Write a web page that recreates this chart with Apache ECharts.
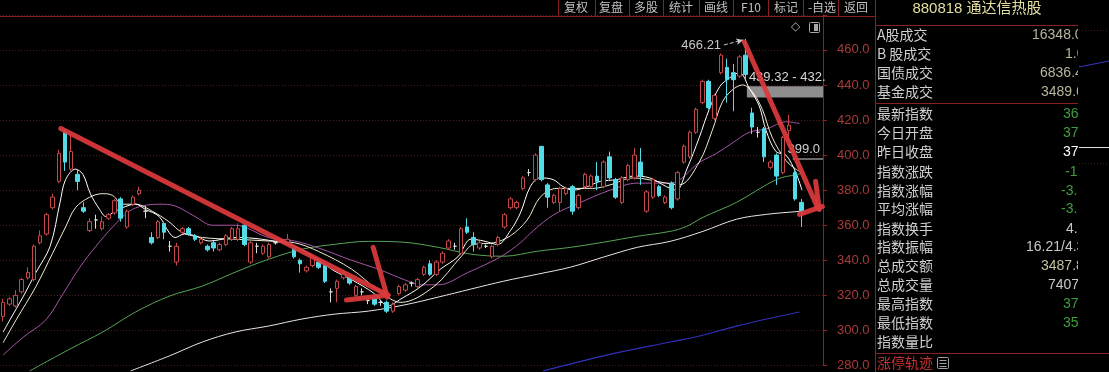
<!DOCTYPE html>
<html><head><meta charset="utf-8">
<script src="https://cdn.jsdelivr.net/npm/echarts@6/dist/echarts.min.js"></script>
<style>html,body{margin:0;padding:0;background:#000;}#c{width:1109px;height:372px;}</style>
</head><body><div id="c"></div>
<script>
// ---- candle data (index 0..129) ----
const opens = [308,315,314,322,330,329,350,355,370,385, 413,392,389,370,357,363,358,364,367,375,
 359,372,378,368,353,353,361,348,339,356, 358,354,350,348,350,346,349,352,352,360,
 339,348,344,342,350,351,350,347,340,334, 337,339,337,322,324,330,330,320,322,317,
 318,316,316,311,321,323,327,325,332,338, 332,339,347,348,344,359,353,347,348,342,
 349,359,370,370,381,390,386,405,383,373, 373,378,382,370,382,382,388,382,399,386,
 373,386,387,396,368,376,382,373,384,375, 396,399,413,430,442,421,447,450,447,445,
 457,424,413,415,393,400,390,414,390,373];
const closes = [316,318,320,329,333,348,354,366,376,401, 396,402,385,368,362,363,362,366,374,364,
 368,376,380,368,350,362,356,348,348,358, 355,352,352,346,347,349,354,358,358,349,
 350,348,348,349,350,351,352,342,338,336, 342,336,328,322,328,333,327,325,322,317,
 315,316,311,315,325,326,327,329,336,332, 339,344,351,348,358,356,349,350,348,348,
 353,366,375,373,387,390,400,386,376,377, 381,381,368,377,389,388,385,396,387,376,
 387,394,400,388,379,386,377,376,370,390, 405,413,426,442,427,434,457,443,443,456,
 446,416,413,399,396,388,410,417,375,368];
const lows = [305,314,313,321,329,328,349,354,369,384, 391,391,380,367,356,358,357,363,366,362,
 358,371,377,364,349,352,352,345,337,355, 354,351,349,345,345,345,348,351,351,348,
 338,344,343,341,349,350,349,341,333,333, 336,335,327,316,316,329,326,319,320,315,
 314,314,310,310,320,322,325,324,331,331, 331,338,346,346,343,355,345,346,347,341,
 348,358,369,369,380,388,385,385,370,372, 368,377,366,369,381,381,380,381,386,375,
 372,385,386,383,367,375,376,372,369,374, 395,398,412,429,426,420,446,430,425,444,
 443,412,410,396,392,383,389,408,374,359];
const highs = [318,319,323,330,336,349,357,367,378,403, 415,412,392,373,364,366,365,367,375,376,
 369,377,382,371,356,363,362,351,350,359, 359,355,353,349,351,350,355,359,361,361,
 351,350,349,350,351,352,355,348,341,337, 343,340,338,324,329,334,331,326,324,318,
 319,317,317,316,326,327,328,330,337,340, 340,345,352,350,359,364,356,351,349,349,
 354,367,376,374,388,392,401,405,384,378, 382,382,383,378,390,389,396,397,402,387,
 388,395,404,404,380,387,383,377,385,391, 406,414,427,443,443,435,458,455,452,457,
 466.21,427,416,416,397,401,411,423,391,375];
const CAT_COUNT = 133;
const categories = Array.from({length: CAT_COUNT}, (_, i) => 'D' + (i + 1));

// ---- moving average lines: [position index, value] ----
const ma5 = [[0,299],[1.1,306],[3.2,319],[5.3,333],[7.6,348],[9.2,373],[10.1,386],[11.7,392],[12.9,389],[14.1,378],[15.6,369],[16.6,365],[17.7,367],[19.3,370],[21.4,372],[23,369],[25.2,365],[26.8,356],[27.8,353],[29.3,355],[31,354],[33.3,351],[37.5,353],[41.8,352],[47.1,348],[51,340],[53.5,334],[56.3,329],[60,321],[62.2,314],[64.3,318],[67.5,325],[70.7,335],[73.5,342],[75.6,352],[77.7,351],[79.9,349],[82,357],[83.6,367],[85.2,382],[86.8,387],[88.9,386],[90.5,382],[92.1,380],[94.4,382],[96.5,385],[99.2,386],[101.8,388],[104.5,387],[107.2,382],[108.8,380],[110.5,392],[112.5,410],[114.1,426],[115.8,439],[117.4,444],[119,447],[120.6,438],[122.2,428],[123.3,414],[124.9,402],[126.5,400],[128.1,390],[129.1,380]];
const ma10 = [[0,293],[2.1,306],[5.3,325],[8,344],[10.1,359],[11.7,370],[14,376],[16.1,378],[17.7,377],[19.3,372],[21.4,372],[24.1,368],[26.8,362],[28.9,356],[32.2,353],[37.5,352],[42.9,351],[47.1,350],[51,345],[56.3,335],[60.6,323],[64.3,316],[69.6,325],[74,342],[76,349],[79.3,350],[82,354],[84.7,363],[86.8,376],[89.5,381],[92.1,381],[95.3,381],[98.1,383],[101.8,387],[107.2,384],[109.3,383],[112.5,396],[114.6,414],[116.2,430],[117.8,437],[119.5,440],[121.1,436],[122.7,426],[124.3,410],[126.5,397],[128.1,392],[129.1,390]];
const ma20 = [[0,286],[3.2,296],[6.9,306],[9.7,321],[12.4,336],[15,348],[17.7,359],[20.4,368],[22.5,371],[25.3,372],[27.8,371],[31,365],[33.8,360],[37.5,360],[42.9,353],[47.1,351],[51,347],[56.3,340],[60.6,335],[64.8,329],[67.6,326],[70.3,326],[75.1,333],[80.4,342],[83.6,350],[85.7,357],[89,366],[93.3,373],[98.1,380],[102.5,384],[107.8,384],[112.6,396],[115.3,401],[117.9,407],[120.6,413],[123.4,415],[126.6,419],[128.7,418]];
const ma60 = [[4.3,276.9],[10.8,289.4],[16.1,299.1],[21.4,310.5],[26.9,319.6],[32.2,325.3],[37.5,333.2],[42.9,340.6],[48.3,346.3],[53.6,349.1],[59,350.8],[64.8,350.3],[70.3,347.4],[75.6,343.5],[80.9,342.3],[86.4,345.2],[91.7,347.4],[97,350.3],[102.5,353.7],[107.8,356.5],[110.5,359.4],[113.1,364.5],[118.5,373],[125,386.1],[128.2,388.9],[129.2,389.5]];
const ma120 = [[20.6,276.9],[26.9,285.5],[32.2,293.4],[37.5,299.1],[42.9,302.5],[48.3,306.5],[53.6,309.3],[59,311],[64.8,314.5],[70.3,319],[75.6,323.6],[80.9,328.1],[86.4,332.1],[91.7,336.1],[97,341.8],[102.5,347.4],[107.8,350.8],[113.1,356.5],[118.5,363.4],[123.4,366.2],[128.7,367.9],[129.2,368]];
const ma250 = [[87.3,276.9],[97,285.5],[107.8,293.4],[112.6,296.8],[118.5,302.5],[128.7,310.5]];

// ---- hand-drawn red arrow strokes [[x,y],[x,y]] in chart units ----
const arrowStrokes = [
  [[9.33,415.1],[62.25,320.1]],
  [[59.8,347.4],[62.1,319.0]],
  [[55.5,317.3],[62.1,320.1]],
  [[119.8,464.5],[131.6,370.2]],
  [[131.3,385.0],[131.9,369.0]],
  [[128.7,366.2],[132.4,370.7]]
];
// ---- price annotations ----
const maxLabel = '466.21';
const maxArrow = [[116.5,462.8],[119.6,465.7]];
const bandRange = [120.2, 132.5, 439.32, 432.9];
const bandLabel = '439.32 - 432.';
const lineLevel = 398.0, lineFrom = 127.6, lineLabel = '399.0';

// ---- y ticks ----
const yMin = 280, yMax = 480, yStep = 20;

// ---- panel ----
const toolbarLabels = ['复权','复盘','多股','统计','画线','F10','标记','-自选','返回'];
const panelTitle = '880818 通达信热股';
const panelLabels = ['A股成交','B 股成交','国债成交','基金成交','最新指数','今日开盘','昨日收盘','指数涨跌','指数涨幅','平均涨幅','指数换手','指数振幅','总成交额','总成交量','最高指数','最低指数','指数量比'];
const panelValues = ['16348.07','1.02','6836.45','3489.62','368.09','374.85','376.88','-13.20','-3.52%','-3.21%','4.25%','16.21/4.31%','3487.8亿','7407万','375.49','359.28',''];

const candleData = opens.map((o, i) => [o, closes[i], lows[i], highs[i]]);

const CJK = '"Noto Sans CJK SC"';
const NUM = '"Liberation Sans", Arial';
const RED_LINE = '#8a2020';

const graphics = [];
graphics.push({type:'line', shape:{x1:0,y1:16.5,x2:875,y2:16.5}, style:{stroke:RED_LINE,lineWidth:1}, z:100});
graphics.push({type:'line', shape:{x1:875.5,y1:0,x2:875.5,y2:372}, style:{stroke:RED_LINE,lineWidth:1}, z:100});
const divX = [558,595,629,663,699,733,768,803,838];
divX.forEach(x => graphics.push({type:'line', shape:{x1:x+0.5,y1:0,x2:x+0.5,y2:16}, style:{stroke:RED_LINE,lineWidth:1}, z:100}));
const tbX = [576,611,646,681,716,751,786,822,856];
toolbarLabels.forEach((t, i) => graphics.push({type:'text', x:tbX[i], y:7, style:{text:t, fill:'#c0c0c0', font:'12px ' + CJK + ',' + NUM, textAlign:'center', textVerticalAlign:'middle'}, z:100}));
graphics.push({type:'text', x:795, y:27, style:{text:'◇', fill:'#a8a8a8', font:'12px ' + NUM, textAlign:'center', textVerticalAlign:'middle'}, z:100});
graphics.push({type:'rect', shape:{x:809.5,y:22.5,width:10,height:10,r:1}, style:{stroke:'#a8a8a8', fill:'none', lineWidth:1}, z:100});
graphics.push({type:'rect', shape:{x:814,y:24,width:4,height:7}, style:{fill:'#a8a8a8'}, z:100});
// panel
graphics.push({type:'text', x:977, y:9, style:{text:panelTitle, fill:'#e6dfa0', font:'15px ' + NUM + ',' + CJK, textAlign:'center', textVerticalAlign:'middle'}, z:100});
[25, 103, 353].forEach(y => graphics.push({type:'line', shape:{x1:876,y1:y+0.5,x2:(y===353?1109:1078),y2:y+0.5}, style:{stroke:RED_LINE,lineWidth:1}, z:100}));
const rowY = [35,54,73,92,114,133,152,172,191,209,229,247,266,285,304,323,342];
const valX = [1032,1065,1040,1041,1063,1063,1063,1065,1061,1061,1066,1026,1041,1048,1063,1063,1063];
const valColor = ['#b8b49c','#b8b49c','#b8b49c','#b8b49c','#3f9d3f','#3f9d3f','#ffffff','#3f9d3f','#3f9d3f','#3f9d3f','#c8c8c8','#c8c8c8','#c4c0a0','#c8c8c8','#3f9d3f','#3f9d3f','#c8c8c8'];
panelLabels.forEach((t, i) => {
  graphics.push({type:'text', x:877, y:rowY[i], style:{text:t, fill:'#d0d0d0', font:'14px ' + CJK, textAlign:'left', textVerticalAlign:'middle'}, z:100});
  graphics.push({type:'text', x:valX[i], y:rowY[i], style:{text:panelValues[i], fill:valColor[i], font:'14px ' + NUM, textAlign:'left', textVerticalAlign:'middle'}, z:100});
});
graphics.push({type:'rect', shape:{x:1078,y:26,width:31,height:326}, style:{fill:'#000'}, z:101});
graphics.push({type:'line', shape:{x1:1079,y1:67,x2:1109,y2:61}, style:{stroke:'#3434c0',lineWidth:1.2}, z:102});
graphics.push({type:'line', shape:{x1:1079,y1:147.5,x2:1109,y2:147.5}, style:{stroke:'#e0e0e0',lineWidth:1}, z:102});
graphics.push({type:'line', shape:{x1:1079,y1:30.5,x2:1109,y2:30.5}, style:{stroke:'#3a1a1a',lineWidth:1,lineDash:[1,2]}, z:102});
graphics.push({type:'line', shape:{x1:1079,y1:163.5,x2:1109,y2:163.5}, style:{stroke:'#3a1a1a',lineWidth:1,lineDash:[1,2]}, z:102});
graphics.push({type:'text', x:877, y:363, style:{text:'涨停轨迹', fill:'#c83232', font:'14px ' + CJK, textAlign:'left', textVerticalAlign:'middle'}, z:100});
graphics.push({type:'rect', shape:{x:937.5,y:357.5,width:11,height:11,r:1}, style:{stroke:'#a0a0a0', fill:'none', lineWidth:1}, z:100});
[360.5,363.5,366.5].forEach(y => graphics.push({type:'line', shape:{x1:939.5,y1:y,x2:946.5,y2:y}, style:{stroke:'#a0a0a0',lineWidth:1}, z:100}));

function maSeries(name, data, color, width) {
  return {name, type:'line', xAxisIndex:1, yAxisIndex:0, data, smooth:0.35, showSymbol:false, symbol:'none', clip:false,
    lineStyle:{color, width:width||1}, z:2, silent:true, animation:false};
}

const chart = echarts.init(document.getElementById('c'), null, {renderer:'canvas'});
const series = [
  maSeries('MA250', ma250, '#3030b8', 1.2),
  maSeries('MA120', ma120, '#e6e6e6', 1),
  maSeries('MA60', ma60, '#56a456', 1),
  maSeries('MA20', ma20, '#a555a5', 1),
  maSeries('MA10', ma10, '#f0ecd0', 1),
  Object.assign(maSeries('MA5', ma5, '#ffffff', 1), {
    markLine: {silent:true, animation:false, symbol:['none','none'], data:[
      [{coord:maxArrow[0], symbol:'none', lineStyle:{type:'dashed', color:'#c8c8c8', width:1},
        label:{show:true, position:'start', formatter:maxLabel, color:'#c8c8c8', fontSize:13, fontFamily:NUM, distance:3}},
       {coord:maxArrow[1], symbol:'arrow', symbolSize:[5,7]}],
      [{coord:[lineFrom, lineLevel], symbol:'none', lineStyle:{type:'solid', color:'#8c8c8c', width:1.5},
        label:{show:true, position:'insideEndTop', formatter:lineLabel, color:'#d0d0d0', fontSize:13, fontFamily:NUM, distance:3}},
       {coord:[bandRange[1], lineLevel], symbol:'none'}]
    ]},
    markArea: {silent:true, animation:false, data:[
      [{coord:[bandRange[0], bandRange[2]], itemStyle:{color:'#8e8e8e', opacity:1},
        label:{show:true, formatter:bandLabel, position:[2,-15], color:'#d8d8d8', fontSize:13, fontFamily:NUM}},
       {coord:[bandRange[1], bandRange[3]]}]
    ]}
  }),
  {name:'K', type:'candlestick', xAxisIndex:0, yAxisIndex:0, data:candleData, barWidth:4, z:3, animation:false,
   itemStyle:{color:'#000', color0:'#54dbe8', borderColor:'#c4484a', borderColor0:'#54dbe8', borderColorDoji:'#dcdcdc', borderWidth:1}},
  {name:'arrows', type:'lines', coordinateSystem:'cartesian2d', xAxisIndex:1, yAxisIndex:0, z:10, silent:true, animation:false,
   data: arrowStrokes.map(c => ({coords:c})),
   lineStyle:{color:'#dc3a3c', width:5, opacity:0.92, cap:'round', curveness:0}}
];

chart.setOption({
  backgroundColor:'#000',
  animation:false,
  grid:{left:-3.1, top:14.8, width:826.1, height:351.9, containLabel:false},
  xAxis:[
    {type:'category', data:categories, boundaryGap:true, show:false},
    {type:'value', min:-0.5, max:CAT_COUNT - 0.5, show:false,
     axisLine:{show:false, onZero:false}, splitLine:{show:false}}
  ],
  yAxis:[{type:'value', position:'right', min:yMin, max:yMax, interval:yStep,
    axisLine:{show:true, onZero:false, lineStyle:{color:RED_LINE, width:1}},
    axisTick:{show:true, length:4, lineStyle:{color:RED_LINE}},
    axisLabel:{show:true, margin:14, color:'#a83a3a', fontSize:13, fontFamily:NUM,
      formatter: v => (v >= yMax ? '' : v.toFixed(1))},
    splitLine:{show:true, lineStyle:{color:'#4a1c1c', type:[1,2], width:1}}
  }],
  series,
  graphic: graphics
});
</script></body></html>
